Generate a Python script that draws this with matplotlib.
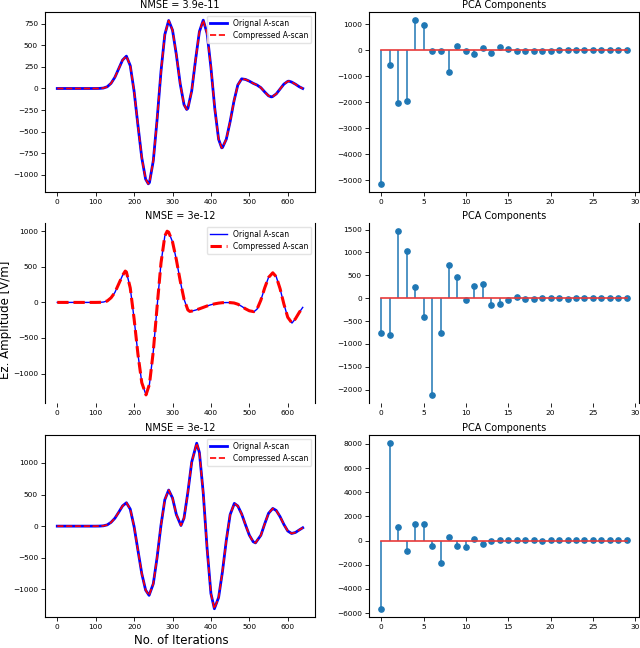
import matplotlib
matplotlib.use("Agg")
import matplotlib.pyplot as plt

# ---------------- data ----------------
# A-scan 1 (top row)
iters1 = [0, 20, 40, 60, 80, 100, 110, 120, 130, 140, 150, 160, 170, 180, 190, 200, 210, 220, 230, 237,
          240, 250, 260, 270, 280, 290, 300, 310, 320, 330, 337, 340, 350, 360, 370, 380, 390, 400,
          410, 420, 428, 430, 440, 450, 460, 470, 480, 490, 500, 510, 520, 530, 540, 550, 557, 560,
          570, 580, 590, 600, 603, 610, 620, 630, 639]
ascan1 = [0, 0, 0, 0, 0, 0, 1, 5, 20, 60, 130, 230, 330, 375, 265, -31, -426, -803, -1051, -1105,
          -1090, -837, -354, 197, 626, 788, 677, 392, 55, -188, -243, -231, -27, 332, 660, 792, 639, 244,
          -231, -589, -688, -685, -588, -384, -146, 41, 112, 105, 85, 60, 40, 10, -40, -85, -97, -95,
          -63, -6, 51, 83, 85, 75, 50, 20, 0]

# A-scan 2 (middle row)
iters2 = [0, 20, 40, 60, 80, 100, 110, 120, 130, 140, 150, 160, 170, 177, 180, 190, 200, 210, 220, 231,
          240, 250, 260, 270, 280, 286, 290, 300, 310, 320, 330, 340, 345, 350, 360, 370, 380, 390, 400,
          410, 420, 430, 440, 450, 460, 470, 480, 490, 500, 512, 520, 530, 540, 550, 561, 570, 580, 590,
          600, 611, 620, 630, 639]
ascan2 = [0, 0, 0, 0, 0, 0, 1, 5, 20, 65, 140, 260, 380, 440, 427, 203, -230, -727, -1127, -1299,
          -1150, -686, -52, 552, 933, 1000, 987, 851, 600, 304, 45, -106, -126, -122, -108, -90, -70, -50, -33,
          -20, -10, -4, -2, -3, -8, -25, -55, -90, -118, -130, -95, 32, 204, 351, 416, 361, 193, -25,
          -209, -290, -230, -140, -70]

# A-scan 3 (bottom row)
iters3 = [0, 20, 40, 60, 80, 100, 110, 120, 130, 140, 150, 160, 170, 180, 190, 200, 210, 220, 230, 239,
          250, 260, 270, 280, 290, 300, 310, 322, 330, 340, 350, 363, 370, 380, 390, 400, 409, 420, 430,
          440, 450, 461, 470, 480, 490, 500, 510, 516, 530, 540, 550, 561, 570, 580, 590, 600, 610,
          620, 630, 639]
ascan3 = [0, 0, 0, 0, 0, 0, 1, 5, 20, 60, 125, 220, 320, 370, 269, -7, -382, -751, -1012, -1095,
          -911, -490, 15, 418, 571, 446, 183, 10, 128, 537, 1014, 1312, 1165, 525, -351, -1067, -1307, -1129, -721,
          -226, 182, 360, 319, 193, 21, -143, -247, -265, -145, 36, 203, 280, 248, 150, 26, -77, -116,
          -100, -60, -26]

# PCA components (30 each)
pca1 = [-5130, -550, -2030, -1930, 1160, 985, -20, -25, -845, 165, -20, -130, 75, -100, 115, 40,
        -20, -20, -10, -10, -10, -5, -5, -5, -5, -5, -5, -5, -5, -5]
pca2 = [-768, -797, 1464, 1022, 246, -413, -2116, -754, 725, 464, -36, 275, 304, -152, -123, -36,
        30, -20, -20, -5, -5, -5, -20, -5, -5, -5, -5, -5, -5, -5]
pca3 = [-5640, 8050, 1140, -860, 1390, 1330, -470, -1890, 333, -444, -555, 140, -280, -55, 10, 10,
        10, 10, 10, -55, 5, 5, 5, 5, 5, 5, 5, 5, 5, 5]

titles_left = ["NMSE = 3.9e-11", "NMSE = 3e-12", "NMSE = 3e-12"]
title_right = "PCA Components"
legend_labels = ["Orignal A-scan", "Compressed A-scan"]
ylabel = "Ez. Amplitude [V/m]"
xlabel = "No. of Iterations"

# ---------------- figure ----------------
fig = plt.figure(figsize=(6.4, 6.48), dpi=100)

rows = [(0.7037, 0.2778), (0.378, 0.2778), (0.0478, 0.281)]
left_x, left_w = 0.0703, 0.4219
right_x, right_w = 0.5766, 0.4220

scans = [(iters1, ascan1), (iters2, ascan2), (iters3, ascan3)]
pcas = [pca1, pca2, pca3]
lw_orig = [2.0, 1.0, 2.0]
lw_comp = [1.2, 2.2, 1.2]

for i, ((yb, h), (xs, ys), pc) in enumerate(zip(rows, scans, pcas)):
    axl = fig.add_axes([left_x, yb, left_w, h])
    axl.plot(xs, ys, color="blue", lw=lw_orig[i], label=legend_labels[0])
    axl.plot(xs, ys, color="red", lw=lw_comp[i], ls="--", label=legend_labels[1])
    axl.set_title(titles_left[i], fontsize=7, pad=3)
    axl.tick_params(labelsize=5.3, length=3, width=0.6, pad=2)
    axl.set_xticks([0, 100, 200, 300, 400, 500, 600])
    axl.legend(loc="upper right", fontsize=5.5, frameon=True, framealpha=0.8,
               edgecolor="#dddddd", handlelength=2.2, borderpad=0.4, labelspacing=0.4)

    axr = fig.add_axes([right_x, yb, right_w, h])
    ml, sl, bl = axr.stem(range(len(pc)), pc, basefmt="r-")
    ml.set_markersize(3.8)
    ml.set_color("#1f77b4")
    sl.set_linewidth(1.1)
    bl.set_linewidth(1.2)
    bl.set_color("#e8393a")
    axr.set_title(title_right, fontsize=7, pad=3)
    axr.tick_params(labelsize=5.3, length=3, width=0.6, pad=2)
    axr.set_xticks([0, 5, 10, 15, 20, 25, 30])

    for ax in (axl, axr):
        for s in ax.spines.values():
            s.set_linewidth(0.8)
        if i == 1:
            ax.spines["top"].set_visible(False)
            ax.spines["bottom"].set_visible(False)

fig.text(0.009, 0.506, ylabel, rotation=90, ha="center", va="center", fontsize=8.5)
fig.text(0.283, 0.012, xlabel, ha="center", va="center", fontsize=8.5)

fig.savefig("out.png", dpi=100)
